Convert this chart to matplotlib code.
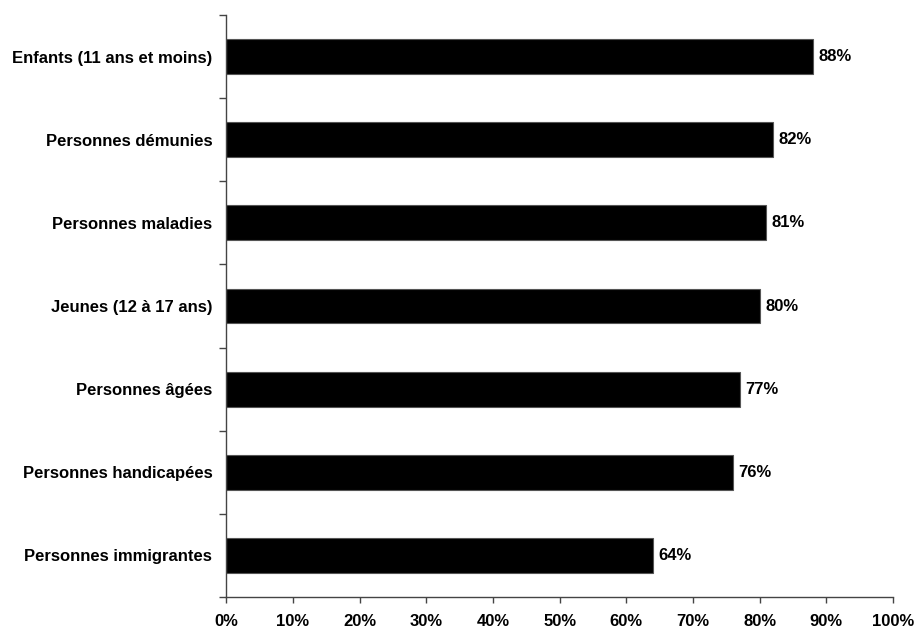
import matplotlib.pyplot as plt
import numpy as np

categories = ['Enfants (11 ans et moins)', 'Personnes démunies', 'Personnes maladies',
              'Jeunes (12 à 17 ans)', 'Personnes âgées', 'Personnes handicapées',
              'Personnes immigrantes']
values = [88, 82, 81, 80, 77, 76, 64]
xticks = [0, 10, 20, 30, 40, 50, 60, 70, 80, 90, 100]

plt.rcParams['font.family'] = ['Liberation Sans', 'DejaVu Sans']
plt.rcParams['font.weight'] = 'bold'

fig = plt.figure(figsize=(9.16, 6.29), dpi=100)
ax = fig.add_axes([0.247, 0.051, 0.728, 0.925])

n = len(categories)
pos = np.arange(n)[::-1]
ax.barh(pos, values, height=0.42, color='black', edgecolor='#555555', linewidth=0.8)

for p, v in zip(pos, values):
    ax.text(v + 0.8, p, f'{v}%', va='center', ha='left', fontsize=12, fontweight='bold')

ax.set_xlim(0, 100)
ax.set_ylim(-0.5, n - 0.5)
ax.set_xticks(xticks)
ax.set_xticklabels([f'{t}%' for t in xticks], fontsize=12, fontweight='bold')
ax.set_yticks(pos)
ax.set_yticklabels(categories, fontsize=12, fontweight='bold')
ax.set_yticks(np.arange(n + 1) - 0.5, minor=True)
ax.tick_params(axis='y', which='major', length=0, pad=10)
ax.tick_params(axis='y', which='minor', length=5, width=1, color='#444444', direction='out')
ax.tick_params(axis='x', length=4, width=1, color='#444444', pad=8)

for s in ['top', 'right']:
    ax.spines[s].set_visible(False)
for s in ['left', 'bottom']:
    ax.spines[s].set_color('#444444')
    ax.spines[s].set_linewidth(1)

fig.savefig('out.png', dpi=100)
